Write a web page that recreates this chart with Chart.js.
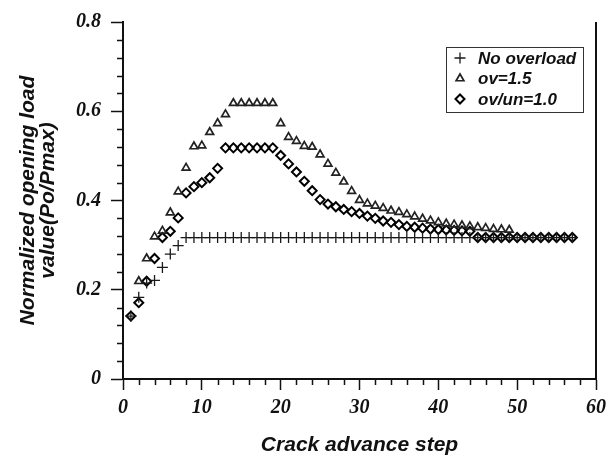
<!DOCTYPE html>
<html>
<head>
<meta charset="utf-8">
<script src="https://cdn.jsdelivr.net/npm/chart.js@4.4.0/dist/chart.umd.min.js"></script>
<style>
	html, body { margin: 0; padding: 0; background: #fff; }
	#wrap { width: 612px; height: 457px; }
</style>
</head>
<body>
<div id="wrap"><canvas id="chart" width="612" height="457"></canvas></div>
<script>
// crack advance steps 1..57
const steps = [1, 2, 3, 4, 5, 6, 7, 8, 9, 10, 11, 12, 13, 14, 15, 16, 17, 18, 19, 20,
	21, 22, 23, 24, 25, 26, 27, 28, 29, 30, 31, 32, 33, 34, 35, 36, 37, 38, 39, 40,
	41, 42, 43, 44, 45, 46, 47, 48, 49, 50, 51, 52, 53, 54, 55, 56, 57];

const noOverload = [0.141, 0.183, 0.215, 0.221, 0.250, 0.280, 0.299, 0.317, 0.317, 0.317,
	0.317, 0.317, 0.317, 0.317, 0.317, 0.317, 0.317, 0.317, 0.317, 0.317,
	0.317, 0.317, 0.317, 0.317, 0.317, 0.317, 0.317, 0.317, 0.317, 0.317,
	0.317, 0.317, 0.317, 0.317, 0.317, 0.317, 0.317, 0.317, 0.317, 0.317,
	0.317, 0.317, 0.317, 0.317, 0.317, 0.317, 0.317, 0.317, 0.317, 0.317,
	0.317, 0.317, 0.317, 0.317, 0.317, 0.317, 0.317];

const ov15 = [null, 0.219, 0.270, 0.319, 0.332, 0.373, 0.420, 0.473, 0.521, 0.523,
	0.553, 0.573, 0.593, 0.618, 0.618, 0.618, 0.618, 0.618, 0.618, 0.573,
	0.542, 0.533, 0.522, 0.520, 0.503, 0.482, 0.462, 0.442, 0.421, 0.401,
	0.393, 0.388, 0.383, 0.377, 0.374, 0.369, 0.364, 0.359, 0.355, 0.351,
	0.348, 0.346, 0.344, 0.342, 0.340, 0.338, 0.336, 0.335, 0.334, null,
	null, null, null, null, null, null, null];

const ovUn10 = [0.141, 0.171, 0.219, 0.270, 0.317, 0.331, 0.361, 0.417, 0.431, 0.440,
	0.451, 0.472, 0.518, 0.518, 0.518, 0.518, 0.518, 0.518, 0.518, 0.501,
	0.482, 0.464, 0.443, 0.422, 0.402, 0.392, 0.386, 0.380, 0.375, 0.371,
	0.365, 0.360, 0.354, 0.351, 0.346, 0.342, 0.340, 0.338, 0.336, 0.335,
	0.334, 0.333, 0.332, 0.331, 0.317, 0.317, 0.317, 0.317, 0.317, 0.317,
	0.317, 0.317, 0.317, 0.317, 0.317, 0.317, 0.317];

const xTicks = [0, 10, 20, 30, 40, 50, 60];
const xMinor = [2, 4, 6, 8, 12, 14, 16, 18, 22, 24, 26, 28, 32, 34, 36, 38, 42, 44, 46, 48, 52, 54, 56, 58];
const yTicks = [0, 0.2, 0.4, 0.6, 0.8];
const yMinor = [0.04, 0.08, 0.12, 0.16, 0.24, 0.28, 0.32, 0.36, 0.44, 0.48, 0.52, 0.56, 0.64, 0.68, 0.72, 0.76];

const toPoints = vals => steps.map((s, i) => ({ x: s, y: vals[i] })).filter(p => p.y !== null);

const tickFont = { family: 'Liberation Serif', size: 20, weight: 'bold', style: 'italic' };
const titleFont = { family: 'Liberation Sans', size: 21, weight: 'bold', style: 'italic', lineHeight: 0.95 };

// minor ticks, right frame line and the boxed legend
const framePlugin = {
	id: 'frame',
	afterDraw(chart) {
		const { ctx, chartArea: a, scales: { x, y } } = chart;
		ctx.save();
		ctx.strokeStyle = '#111';
		ctx.lineWidth = 1.5;
		ctx.beginPath();
		xMinor.forEach(v => {
			const px = Math.round(x.getPixelForValue(v)) + 0.5;
			ctx.moveTo(px, a.bottom);
			ctx.lineTo(px, a.bottom + 6);
		});
		yMinor.forEach(v => {
			const py = Math.round(y.getPixelForValue(v)) + 0.5;
			ctx.moveTo(a.left - 6, py);
			ctx.lineTo(a.left, py);
		});
		ctx.stroke();

		ctx.lineWidth = 2;
		ctx.beginPath();
		ctx.moveTo(a.right, a.top);
		ctx.lineTo(a.right, a.bottom + 1);
		ctx.stroke();

		// legend
		const bx = 446, by = 47, bw = 137, bh = 65;
		ctx.lineWidth = 1;
		ctx.strokeStyle = '#333';
		ctx.strokeRect(bx + 0.5, by + 0.5, bw, bh);
		ctx.font = 'italic bold 17px "Liberation Sans"';
		ctx.textBaseline = 'middle';
		ctx.textAlign = 'left';
		chart.data.datasets.forEach((ds, i) => {
			const ry = by + 11 + i * 20.5;
			ctx.strokeStyle = ds.borderColor;
			ctx.fillStyle = 'rgba(0,0,0,0)';
			ctx.lineWidth = ds.pointBorderWidth;
			Chart.helpers.drawPoint(ctx, {
				pointStyle: ds.pointStyle,
				radius: ds.pointRadius,
				borderWidth: ds.pointBorderWidth,
				rotation: 0
			}, bx + 14, ry);
			ctx.fillStyle = '#111';
			ctx.fillText(ds.label, bx + 32, ry + 1);
		});
		ctx.restore();
	}
};

new Chart(document.getElementById('chart'), {
	type: 'scatter',
	data: {
		datasets: [{
			label: 'No overload',
			data: toPoints(noOverload),
			pointStyle: 'cross',
			pointRadius: 5.5,
			pointBorderWidth: 1.3,
			borderColor: '#1a1a1a',
			backgroundColor: 'rgba(0,0,0,0)'
		}, {
			label: 'ov=1.5',
			data: toPoints(ov15),
			pointStyle: 'triangle',
			pointRadius: 4.5,
			pointBorderWidth: 1.7,
			borderColor: '#222',
			backgroundColor: 'rgba(0,0,0,0)'
		}, {
			label: 'ov/un=1.0',
			data: toPoints(ovUn10),
			pointStyle: 'rectRot',
			pointRadius: 4.5,
			pointBorderWidth: 2,
			borderColor: '#000',
			backgroundColor: 'rgba(0,0,0,0)'
		}]
	},
	options: {
		responsive: false,
		animation: false,
		devicePixelRatio: 1,
		layout: { padding: { top: 20, right: 12, left: 0, bottom: 0 } },
		plugins: {
			legend: { display: false },
			tooltip: { enabled: false }
		},
		scales: {
			x: {
				type: 'linear',
				min: 0,
				max: 60,
				afterBuildTicks: s => { s.ticks = xTicks.map(v => ({ value: v })); },
				afterFit: s => { s.height = 78; },
				border: { display: true, color: '#111', width: 2 },
				grid: { drawOnChartArea: false, drawTicks: true, tickLength: 11, tickColor: '#111', tickWidth: 1.5 },
				ticks: { color: '#111', font: tickFont, padding: 6, maxRotation: 0 },
				title: { display: true, text: 'Crack advance step', color: '#111', font: titleFont, padding: { top: 0, bottom: 2 } }
			},
			y: {
				min: 0,
				max: 0.8,
				afterBuildTicks: s => { s.ticks = yTicks.map(v => ({ value: v })); },
				afterFit: s => { s.width = 123; },
				border: { display: true, color: '#111', width: 2 },
				grid: { drawOnChartArea: false, drawTicks: true, tickLength: 12, tickColor: '#111', tickWidth: 1.5 },
				ticks: { color: '#111', font: tickFont, padding: 10, callback: v => v === 0 ? '0' : v.toFixed(1) },
				title: { display: true, text: ['Normalized opening load', 'value(Po/Pmax)'], color: '#111', font: titleFont, padding: { top: 18, bottom: 0 } }
			}
		}
	},
	plugins: [framePlugin]
});
</script>
</body>
</html>
